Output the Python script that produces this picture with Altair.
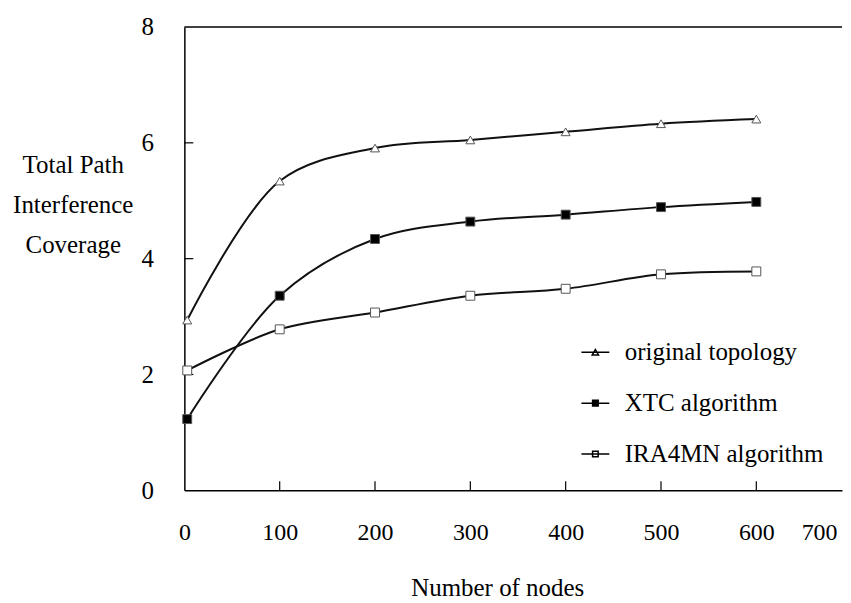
import altair as alt
import pandas as pd

# ---- data ----
nodes = [3, 100, 200, 300, 400, 500, 600]
original_topology = [2.94, 5.34, 5.91, 6.05, 6.19, 6.33, 6.41]
xtc_algorithm = [1.23, 3.36, 4.34, 4.64, 4.76, 4.89, 4.98]
ira4mn_algorithm = [2.07, 2.78, 3.07, 3.36, 3.48, 3.73, 3.78]
series_names = ["original topology", "XTC algorithm", "IRA4MN algorithm"]

x_label_values = [0, 100, 200, 300, 400, 500, 600, 700]
x_tick_values = [100, 200, 300, 400, 500, 600]
y_label_values = [0, 2, 4, 6, 8]
y_tick_values = [2, 4, 6]

rows = []
for name, vals in zip(series_names, [original_topology, xtc_algorithm, ira4mn_algorithm]):
    for n, v in zip(nodes, vals):
        rows.append({"nodes": n, "value": v, "series": name})
df = pd.DataFrame(rows)

W, H = 660, 465
FONT = "Liberation Serif"

xscale = alt.Scale(domain=[0, 600, 700, 725], range=[0, 574, 637, 660])
yscale = alt.Scale(domain=[0, 8], nice=False)

x_axis = alt.Axis(
    values=x_label_values, ticks=False, grid=False, domainColor="black", domainWidth=1.5,
    labelFont=FONT, labelFontSize=24, labelColor="black", labelPadding=30, labelFlush=False,
    title="Number of nodes", titleFont=FONT, titleFontSize=25, titleFontWeight="normal",
    titleColor="black", titlePadding=32, titleX=314,
)
y_axis = alt.Axis(
    values=y_label_values, ticks=False, grid=False, domainColor="black", domainWidth=1.5,
    labelFont=FONT, labelFontSize=25, labelColor="black", labelPadding=31, labelFlush=False,
    title=["Total Path", "Interference", "Coverage"], titleFont=FONT, titleFontSize=25,
    titleFontWeight="normal", titleColor="black", titleAngle=0, titleAlign="center",
    titleBaseline="alphabetic", titleX=-112, titleY=146, titleLineHeight=40,
)

point_shapes = ["triangle-up", "square", "square"]
marker_fills = ["white", "black", "white"]
marker_strokes = ["black", "black", "black"]
# legend symbols: a short line with the marker on it
legend_paths = [
    "M-2,0H2M-0.45,0.38L0,-0.42L0.45,0.38Z",
    "M-2,0H2M-0.4,-0.4H0.4V0.4H-0.4Z",
    "M-2,0H2M-0.4,-0.4H0.4V0.4H-0.4Z",
]

X = lambda f: alt.X(f, scale=xscale, axis=x_axis)
Y = lambda f: alt.Y(f, scale=yscale, axis=y_axis)

lines = alt.Chart(df).mark_line(interpolate="catmull-rom", color="#111111", strokeWidth=2).encode(
    x=X("nodes:Q"), y=Y("value:Q"), detail="series:N",
)

top_border = alt.Chart(pd.DataFrame({"v": [8]})).mark_rule(color="black", strokeWidth=1.5).encode(
    y=Y("v:Q")
)
x_ticks = alt.Chart(pd.DataFrame({"t": x_tick_values})).mark_rule(color="black", strokeWidth=1.2).encode(
    x=X("t:Q"), y=alt.value(H), y2=alt.value(H - 9)
)
y_ticks = alt.Chart(pd.DataFrame({"t": y_tick_values})).mark_rule(color="black", strokeWidth=1.2).encode(
    y=Y("t:Q"), x=alt.value(0), x2=alt.value(9)
)

point_layers = []
for name, shp, fc in zip(series_names, point_shapes, marker_fills):
    point_layers.append(
        alt.Chart(df).transform_filter(alt.datum.series == name).mark_point(
            shape=shp, filled=True, fill=fc, size=80, stroke="#555555", strokeWidth=1, opacity=1
        ).encode(x=X("nodes:Q"), y=Y("value:Q"))
    )

leg = alt.Legend(
    title=None, orient="none", legendX=400, legendY=314, padding=0,
    symbolSize=196, symbolStrokeWidth=1.5,
    labelFont=FONT, labelFontSize=25, labelColor="black", labelOffset=17,
    rowPadding=25, labelLimit=400,
)
legend_layer = alt.Chart(df).transform_filter("false").mark_point(
    filled=False, strokeWidth=1.5, opacity=1
).encode(
    x=X("nodes:Q"), y=Y("value:Q"),
    shape=alt.Shape("series:N", scale=alt.Scale(domain=series_names, range=legend_paths), legend=leg),
    fill=alt.Fill("series:N", scale=alt.Scale(domain=series_names, range=marker_fills), legend=leg),
    stroke=alt.Stroke("series:N", scale=alt.Scale(domain=series_names, range=marker_strokes), legend=leg),
)

chart = alt.layer(lines, top_border, x_ticks, y_ticks, *point_layers, legend_layer).properties(
    width=W, height=H, padding={"left": 4, "top": 6, "right": 0, "bottom": 0}
).configure_view(stroke=None)

chart.save("out.html", embed_options={"renderer": "svg", "actions": False})
